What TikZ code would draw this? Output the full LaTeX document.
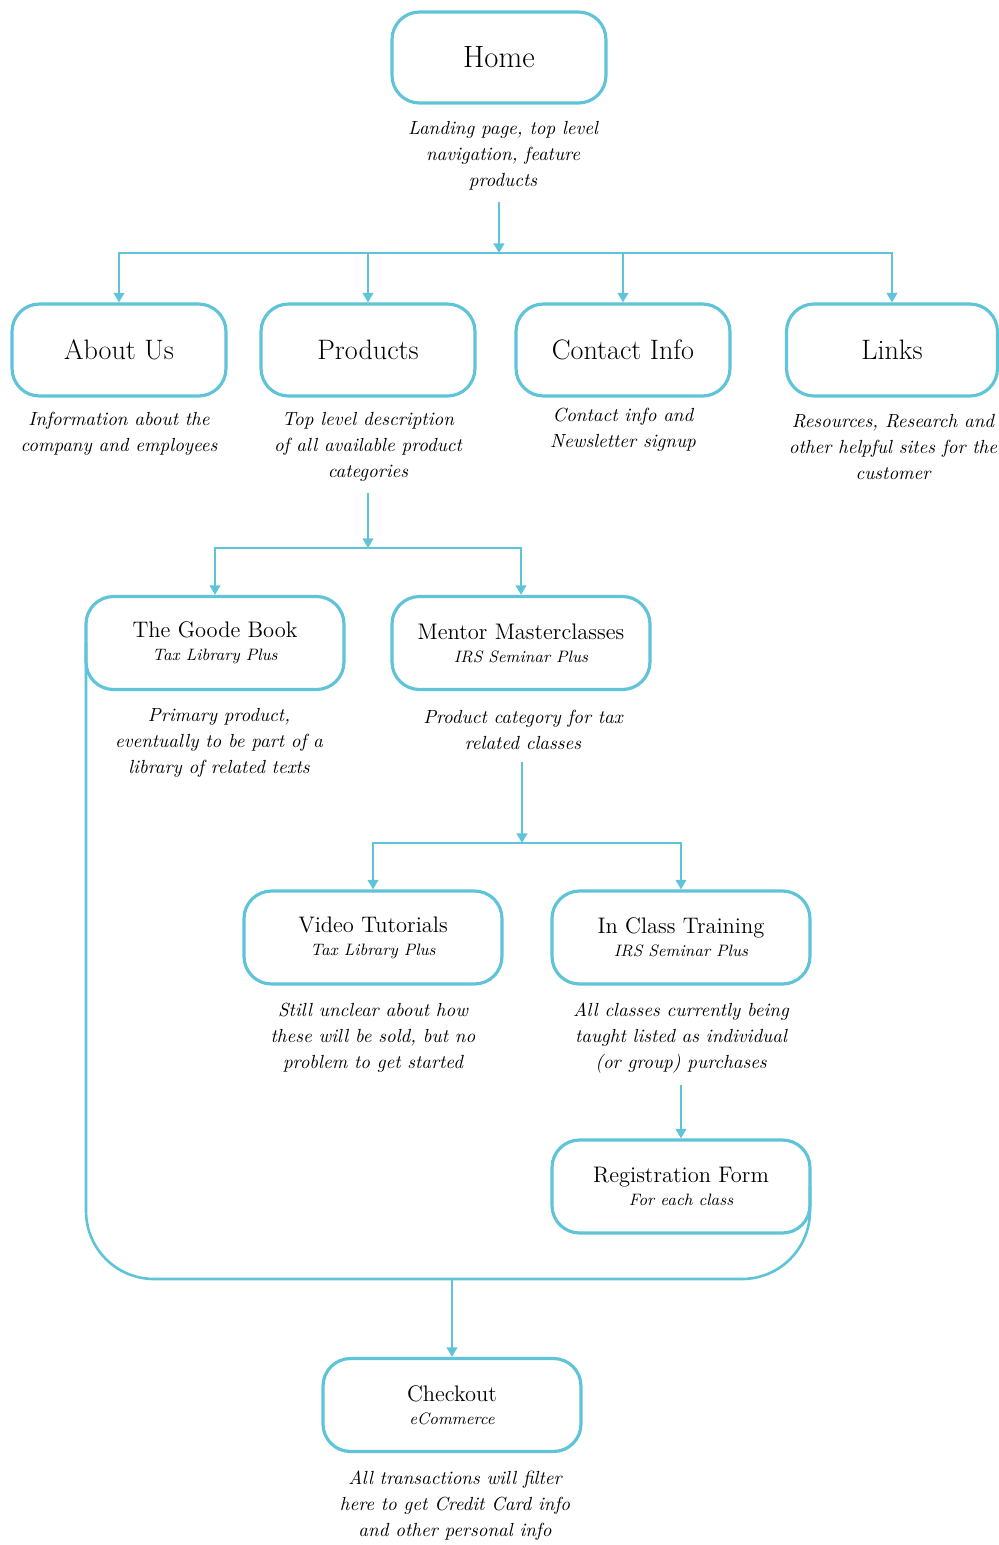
\documentclass[tikz,border=0pt]{standalone}
\usepackage{tikz}
\usetikzlibrary{arrows.meta}
\definecolor{sitecyan}{RGB}{95,196,216}
\newcommand{\pagesub}[1]{{\fontsize{9.4}{11}\selectfont\itshape #1}}

\begin{document}
\begin{tikzpicture}[x=0.02cm, y=-0.02cm,
    >={Triangle[length=5.5pt, width=6pt]},
    page/.style={rectangle, draw=sitecyan, line width=1.8pt, rounded corners=0.55cm,
      minimum width=4.28cm, minimum height=1.84cm, align=center,
      font=\fontsize{16}{18}\selectfont},
    subpage/.style={page, minimum width=5.16cm, minimum height=1.86cm,
      font=\fontsize{12.8}{13}\selectfont},
    note/.style={align=center, font=\fontsize{10.8}{14.8}\selectfont\itshape},
    link/.style={draw=sitecyan, line width=1.5pt, line cap=rect},
    flow/.style={link, ->},
    lead/.style={flow, shorten <=4pt}]
  \useasboundingbox (0,0) rectangle (999,1545);

  % Home
  \node[page, minimum height=1.82cm, font=\fontsize{17.5}{20}\selectfont] (home) at (499,57.5) {Home};
  \node[note] (homedesc) at (503,156)
    {Landing page, top level\\navigation, feature\\products};

  % Top level pages
  \node[page] (about) at (119,350) {About Us};
  \node[page] (products) at (368,350) {Products};
  \node[page] (contact) at (623,350) {Contact Info};
  \node[page, minimum width=4.22cm] (links) at (892,350) {Links};

  \node[note] (aboutdesc) at (119,434)
    {Information about the\\company and employees};
  \node[note] (productsdesc) at (368,447)
    {Top level description\\of all available product\\categories};
  \node[note] (contactdesc) at (623,430)
    {Contact info and\\Newsletter signup};
  \node[note] (linksdesc) at (893,447)
    {Resources, Research and\\other helpful sites for the\\customer};

  % Product categories
  \node[subpage] (goode) at (215,643) {The Goode Book\\\pagesub{Tax Library Plus}};
  \node[subpage] (mentor) at (521,643) {Mentor Masterclasses\\\pagesub{IRS Seminar Plus}};

  \node[note] (goodedesc) at (219,743)
    {Primary product,\\eventually to be part of a\\library of related texts};
  \node[note] (mentordesc) at (523,730)
    {Product category for tax\\related classes};

  % Classes
  \node[subpage] (video) at (373,937.5) {Video Tutorials\\\pagesub{Tax Library Plus}};
  \node[subpage] (inclass) at (681,937.5) {In Class Training\\\pagesub{IRS Seminar Plus}};

  \node[note] (videodesc) at (373,1038)
    {Still unclear about how\\these will be sold, but no\\problem to get started};
  \node[note] (inclassdesc) at (681,1038)
    {All classes currently being\\taught listed as individual\\(or group) purchases};

  \node[subpage] (regform) at (681,1186.5) {Registration Form\\\pagesub{For each class}};

  % Checkout
  \node[subpage] (checkout) at (452,1405) {Checkout\\\pagesub{eCommerce}};
  \node[note] (checkoutdesc) at (455,1506)
    {All transactions will filter\\here to get Credit Card info\\and other personal info};

  % Connectors
  \coordinate (homefork) at (499,253);
  \draw[lead] (homefork |- homedesc.south) -- (homefork);
  \draw[link] (about.north |- homefork) -- (links.north |- homefork);
  \foreach \p in {about, products, contact, links}
    \draw[flow] (\p.north |- homefork) -- (\p.north);

  \coordinate (productsfork) at (368,548);
  \draw[lead] (productsfork |- productsdesc.south) -- (productsfork);
  \draw[link] (goode.north |- productsfork) -- (mentor.north |- productsfork);
  \foreach \p in {goode, mentor}
    \draw[flow] (\p.north |- productsfork) -- (\p.north);

  \coordinate (mentorfork) at (522,843);
  \draw[lead] (mentorfork |- mentordesc.south) -- (mentorfork);
  \draw[link] (video.north |- mentorfork) -- (inclass.north |- mentorfork);
  \foreach \p in {video, inclass}
    \draw[flow] (\p.north |- mentorfork) -- (\p.north);

  \draw[lead] (regform.north |- inclassdesc.south) -- (regform.north);

  % Everything gathers into checkout
  \coordinate (cartjoin) at (452,1279);
  \draw[link, line cap=butt, rounded corners=1.36cm] ([xshift=0.9pt]goode.west)
    -- ([xshift=0.9pt]goode.west |- cartjoin)
    -- ([xshift=-0.9pt]regform.east |- cartjoin) -- ([xshift=-0.9pt]regform.east);
  \draw[flow] (cartjoin) -- (checkout.north);
\end{tikzpicture}
\end{document}
